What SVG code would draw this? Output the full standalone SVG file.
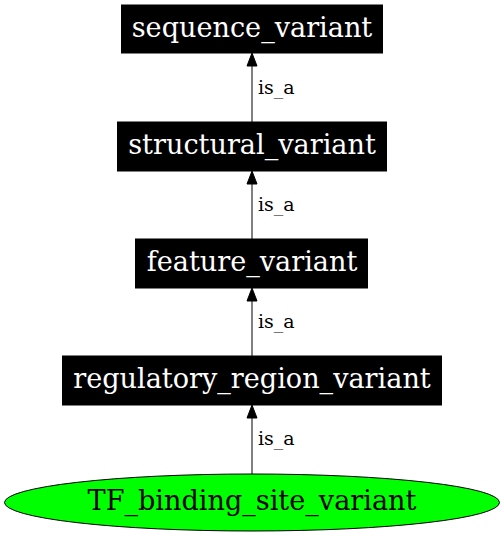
<svg xmlns="http://www.w3.org/2000/svg" width="504" height="536" viewBox="0 0 504 536">
<style>
.box{fill:#000;stroke:#000;stroke-width:1}
.lbl{font-family:"DejaVu Serif","Liberation Serif",serif;font-size:27.1px;fill:#fff;text-anchor:middle}
.elbl{font-family:"DejaVu Serif","Liberation Serif",serif;font-size:19px;fill:#000}
.edge{stroke:#000;stroke-width:1;fill:none}
.head{fill:#000;stroke:#000;stroke-width:1}
</style>
<rect width="504" height="536" fill="#fff"/>
<g id="connectors">
  <g id="e1"><line class="edge" x1="252" y1="122" x2="252" y2="66"/><polygon class="head" points="252,53 247,66 257,66"/><text class="elbl" x="258" y="94">is_a</text></g>
  <g id="e2"><line class="edge" x1="252" y1="239" x2="252" y2="184"/><polygon class="head" points="252,171 247,184 257,184"/><text class="elbl" x="258" y="211">is_a</text></g>
  <g id="e3"><line class="edge" x1="252" y1="356" x2="252" y2="301"/><polygon class="head" points="252,288 247,301 257,301"/><text class="elbl" x="258" y="328">is_a</text></g>
  <g id="e4"><line class="edge" x1="252" y1="474" x2="252" y2="418"/><polygon class="head" points="252,405 247,418 257,418"/><text class="elbl" x="258" y="445">is_a</text></g>
</g>
<g id="sequence_variant"><rect class="box" x="121.5" y="5" width="261" height="48"/><text class="lbl" x="252" y="37">sequence_variant</text></g>
<g id="structural_variant"><rect class="box" x="117.5" y="122" width="269" height="49"/><text class="lbl" x="252" y="154">structural_variant</text></g>
<g id="feature_variant"><rect class="box" x="135.5" y="239" width="232" height="49"/><text class="lbl" x="252" y="271">feature_variant</text></g>
<g id="regulatory_region_variant"><rect class="box" x="62.5" y="356" width="379" height="49"/><text class="lbl" x="252" y="388">regulatory_region_variant</text></g>
<g id="TF_binding_site_variant"><ellipse cx="252" cy="502.5" rx="247.5" ry="28.5" fill="#00ff00" stroke="#000" stroke-width="1"/><text class="lbl" x="252" y="510" style="fill:#000">TF_binding_site_variant</text></g>
</svg>
